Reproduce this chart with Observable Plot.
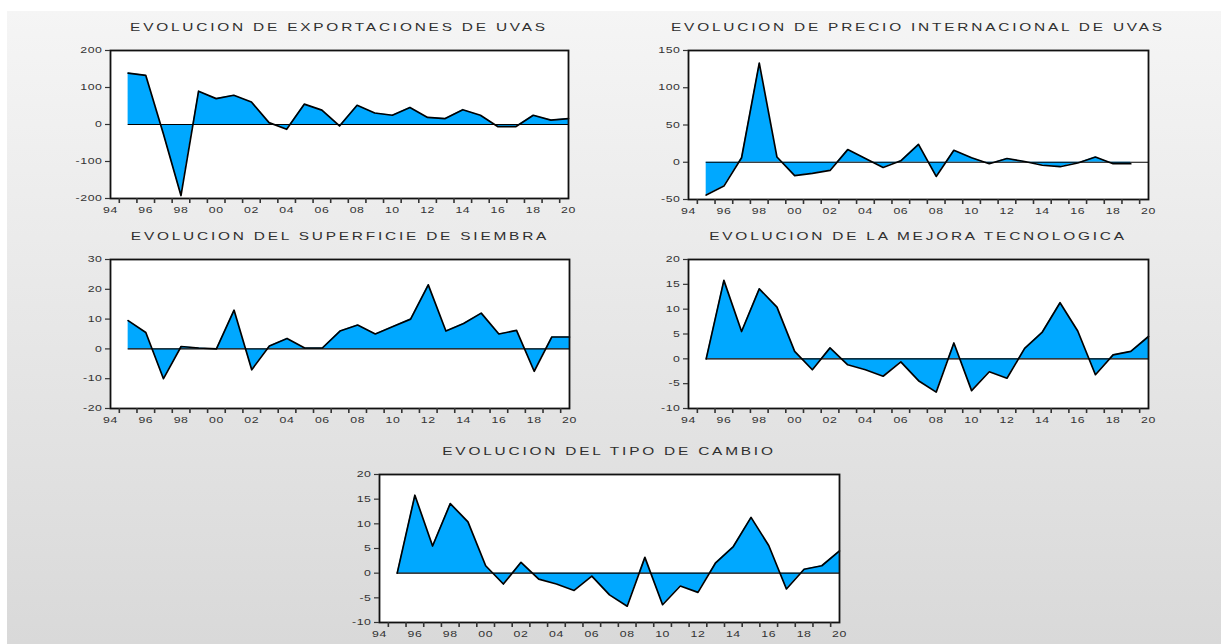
<!DOCTYPE html>
<html><head><meta charset="utf-8">
<script src="https://cdn.jsdelivr.net/npm/d3@7"></script>
<script src="https://cdn.jsdelivr.net/npm/@observablehq/plot@0.6"></script>
<style>
html,body{margin:0;padding:0;}
body{width:1221px;height:644px;background:#fff;overflow:hidden;position:relative;font-family:"Liberation Sans",Arial,sans-serif;}
#bg{position:absolute;left:7px;top:11px;right:0;bottom:0;background:linear-gradient(#f5f5f5,#d9d9d9);}
.title{position:absolute;font-size:11px;line-height:11px;letter-spacing:2px;color:#2f2f2f;white-space:nowrap;transform:translateX(-50%) scaleX(1.4);}
.chart{position:absolute;}
</style></head><body><div id="bg"></div>
<script>
// Years of observation
const years = [1995,1996,1997,1998,1999,2000,2001,2002,2003,2004,2005,2006,2007,2008,2009,2010,2011,2012,2013,2014,2015,2016,2017,2018,2019,2020];
const yearsPrecio = [1995,1996,1997,1998,1999,2000,2001,2002,2003,2004,2005,2006,2007,2008,2009,2010,2011,2012,2013,2014,2015,2016,2017,2018,2019];
// Tick labels on the x axis
const labelYears = [1994,1996,1998,2000,2002,2004,2006,2008,2010,2012,2014,2016,2018,2020];

// Series values
const exportaciones = [139,133,-25,-192,90,70,79,61,5,-13,55,39,-4,52,31,25,46,19,16,40,25,-6,-6,25,12,16];
const precio = [-44,-32,6,133,7,-18,-15,-11,17,5,-7,2,24,-19,16,6,-2,5,1,-4,-6,-1,7,-2,-2];
const superficie = [9.5,5.5,-10,0.8,0.3,0,13,-7,1,3.5,0.3,0.3,6,8,5,7.5,10,21.5,6,8.5,12,5,6.2,-7.5,4,4];
const mejora = [0,15.8,5.5,14.1,10.4,1.5,-2.2,2.2,-1.2,-2.2,-3.5,-0.6,-4.4,-6.7,3.2,-6.4,-2.6,-3.9,2.1,5.4,11.3,5.6,-3.2,0.8,1.5,4.5];
const tipoCambio = [0,15.8,5.5,14.1,10.4,1.5,-2.2,2.2,-1.2,-2.2,-3.5,-0.6,-4.4,-6.7,3.2,-6.4,-2.6,-3.9,2.1,5.4,11.3,5.6,-3.2,0.8,1.5,4.5];

// Titles and y ticks
const titles = ["EVOLUCION DE EXPORTACIONES DE UVAS","EVOLUCION DE PRECIO INTERNACIONAL DE UVAS","EVOLUCION DEL SUPERFICIE DE SIEMBRA","EVOLUCION DE LA MEJORA TECNOLOGICA","EVOLUCION DEL TIPO DE CAMBIO"];
const yTicks1 = [-200,-100,0,100,200];
const yTicks2 = [-50,0,50,100,150];
const yTicks3 = [-20,-10,0,10,20,30];
const yTicks4 = [-10,-5,0,5,10,15,20];
const yTicks5 = [-10,-5,0,5,10,15,20];

const halfTicks = [1994].concat(years.slice(0,-1)).map(y => y + 0.5);

function panel(ys, vals, yTicks, title, fr) {
  const [x0,x1,y0,y1] = fr;
  const data = ys.map((y,i) => ({year:y, value:vals[i]}));
  const mL = 45, mR = 10, mT = 6, mB = 24;
  const plot = Plot.plot({
    width: x1-x0+mL+mR, height: y1-y0+mT+mB,
    marginLeft: mL, marginRight: mR, marginTop: mT, marginBottom: mB,
    style: {background:"transparent", fontFamily:"'Liberation Sans', Arial, sans-serif", fontSize:"8.5px", color:"#333", overflow:"visible"},
    x: {domain:[1994,2020], axis:null},
    y: {domain:[yTicks[0], yTicks[yTicks.length-1]], axis:null},
    marks: [
      Plot.frame({fill:"white", stroke:"none"}),
      Plot.areaY(data, {x:"year", y:"value", fill:"#00a8ff"}),
      Plot.ruleY([0], {x1:1995, x2:2020, stroke:"black", strokeWidth:1.2}),
      Plot.lineY(data, {x:"year", y:"value", stroke:"black", strokeWidth:1.7}),
      Plot.frame({stroke:"#111", strokeWidth:1.8}),
      Plot.axisY(yTicks, {tickSize:5, tickPadding:3, label:null, strokeWidth:1.2, tickFormat: d => String(d)}),
      Plot.axisX(halfTicks, {tickSize:5, label:null, strokeWidth:1.6, tickFormat: () => ""}),
      Plot.axisX(labelYears, {tickSize:0, tickPadding:8, label:null, tickFormat: d => String(d % 100).padStart(2,"0")})
    ]
  });
  d3.select(plot).selectAll('g[aria-label="y-axis tick label"] text, g[aria-label="x-axis tick label"] text')
    .attr("letter-spacing", "0.4px")
    .attr("transform", function(){ return (this.getAttribute("transform") || "") + " scale(1.45,1)"; });
  const div = document.createElement("div");
  div.className = "chart";
  div.style.left = (x0 - mL) + "px";
  div.style.top = (y0 - mT) + "px";
  div.appendChild(plot);
  document.body.appendChild(div);
  const t = document.createElement("div");
  t.className = "title";
  t.textContent = title;
  t.style.left = ((x0 + x1) / 2) + "px";
  t.style.top = (y0 - 28) + "px";
  document.body.appendChild(t);
}

panel(years, exportaciones, yTicks1, titles[0], [110,568,50,198]);
panel(yearsPrecio, precio, yTicks2, titles[1], [688,1148,50,199]);
panel(years, superficie, yTicks3, titles[2], [110,569,259,408]);
panel(years, mejora, yTicks4, titles[3], [688,1148,259,408]);
panel(years, tipoCambio, yTicks5, titles[4], [379,839,474,622]);
</script></body></html>
